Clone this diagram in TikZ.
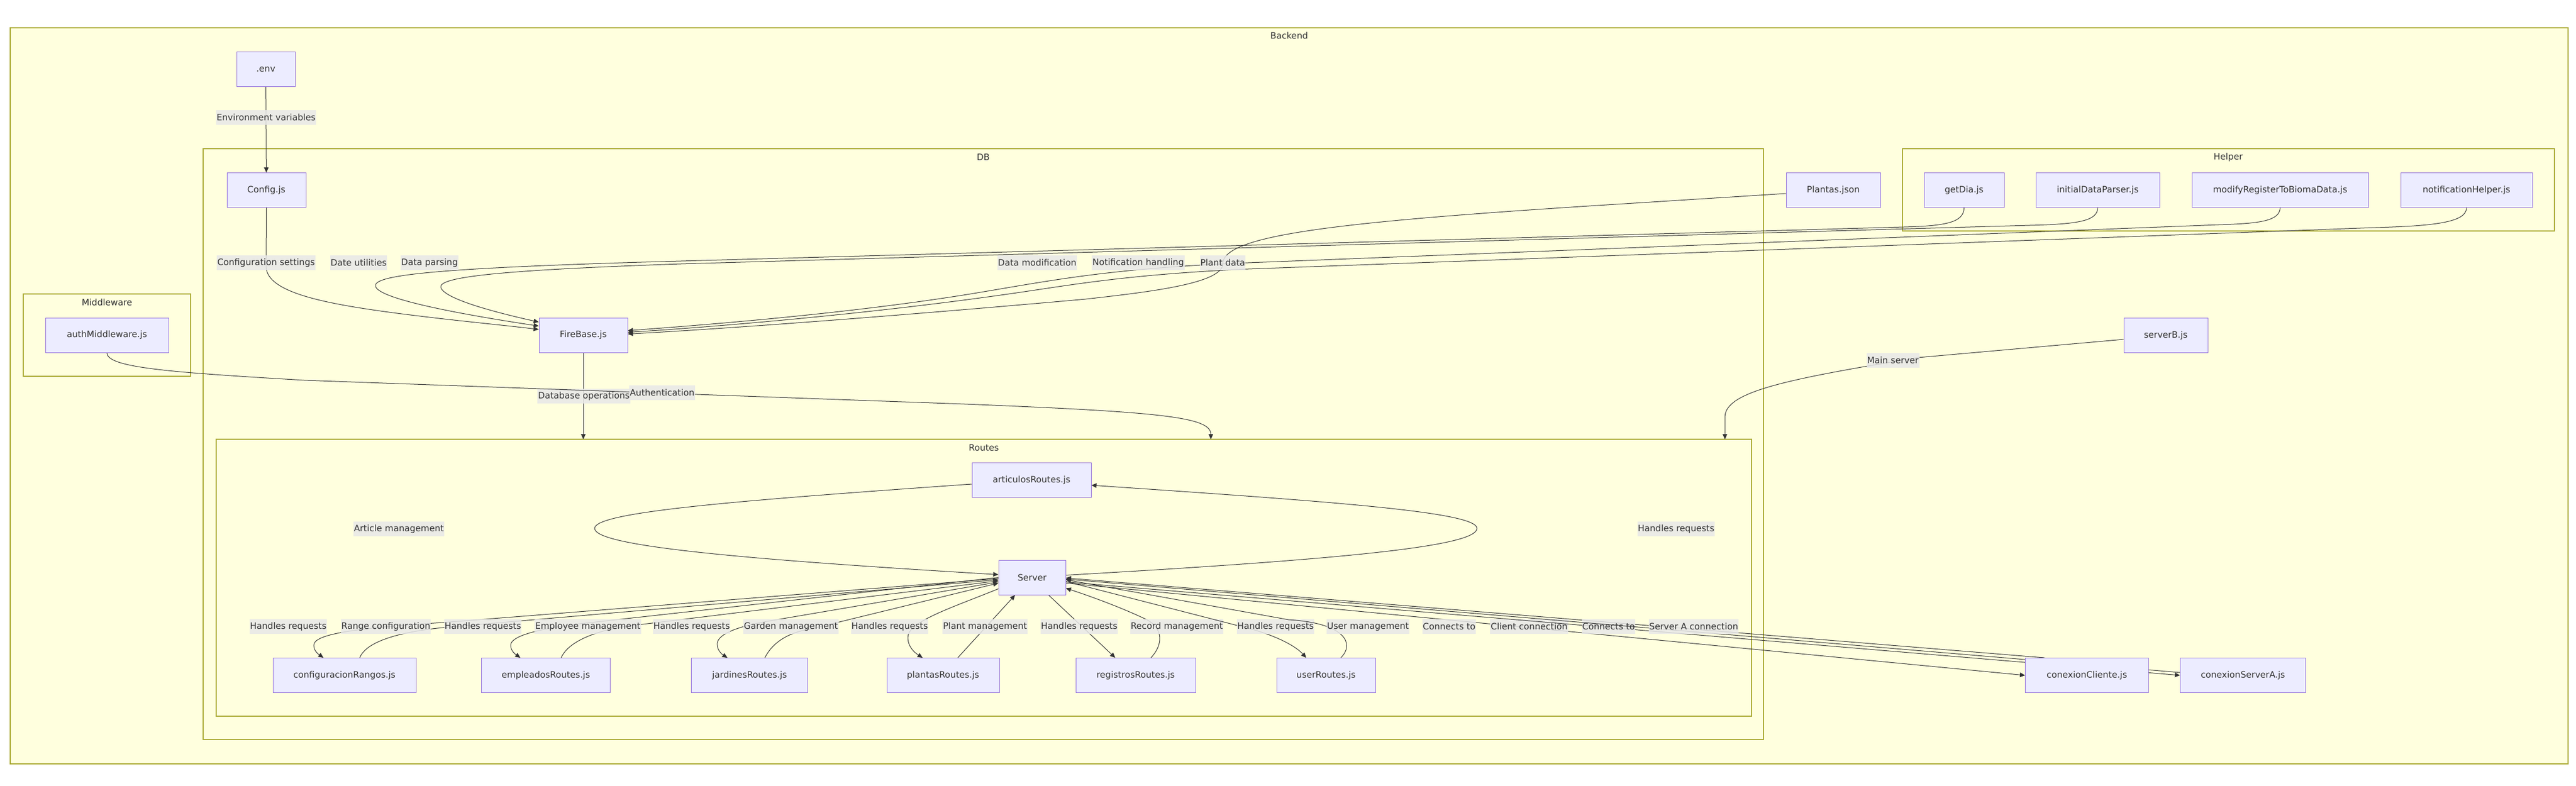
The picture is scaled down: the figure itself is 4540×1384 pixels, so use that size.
\documentclass[tikz,border=0pt]{standalone}
\usepackage{fontspec}
\setmainfont{DejaVu Sans}
\usetikzlibrary{arrows.meta}
\definecolor{nodefill}{HTML}{ECECFF}
\definecolor{nodeline}{HTML}{9370DB}
\definecolor{clfill}{HTML}{FFFFDE}
\definecolor{clline}{HTML}{AAAA33}
\definecolor{edgecol}{HTML}{333333}
\definecolor{lblfill}{HTML}{E8E8E8}
\pgfdeclarelayer{bg}
\pgfdeclarelayer{edges}
\pgfsetlayers{bg,edges,main}
\tikzset{
	filebox/.style={draw=nodeline, fill=nodefill, line width=1pt, minimum height=61pt, inner sep=0pt, text=edgecol, font=\fontsize{15.5}{18}\selectfont},
	clusterbox/.style={draw=clline, fill=clfill, line width=1.2pt},
	ctitle/.style={text=edgecol, inner sep=0pt, font=\fontsize{15.5}{18}\selectfont},
	elabel/.style={fill=lblfill, fill opacity=0.85, text opacity=1, text=edgecol, inner xsep=1pt, inner ysep=0pt, minimum height=26pt, font=\fontsize{15.5}{18}\selectfont},
	flow/.style={draw=edgecol, line width=1pt, -{Triangle[length=9pt,width=8pt]}}
}

\begin{document}
\begin{tikzpicture}[x=1pt,y=-1pt]
			%%%%% START %%%%%
			
			\begin{pgfonlayer}{bg}
			\fill[white] (0,0) rectangle (4540,1384);
			\draw[clusterbox] (18,49) rectangle (4526,1346);
			\draw[clusterbox] (358,262) rectangle (3108,1303);
			\draw[clusterbox] (381,774) rectangle (3087,1262);
			\draw[clusterbox] (3353,262) rectangle (4502,407);
			\draw[clusterbox] (41,518) rectangle (336,663);
			\end{pgfonlayer}
			\useasboundingbox (0,0) rectangle (4540,1384);
			
			\node[ctitle] (backendt) at (2272,63) {Backend};
			\node[ctitle] (dbt) at (1733,277) {DB};
			\node[ctitle] (routest) at (1734,789) {Routes};
			\node[ctitle] (helpert) at (3927,277) {Helper};
			\node[ctitle] (middlewaret) at (188.5,533) {Middleware};
			
			\node[filebox, minimum width=103pt] (env) at (468.5,122) {.env};
			\node[filebox, minimum width=139pt] (config) at (469.5,335) {Config.js};
			\node[filebox, minimum width=156pt] (firebase) at (1028,590.5) {FireBase.js};
			\node[filebox, minimum width=217pt] (auth) at (188.5,590.5) {authMiddleware.js};
			\node[filebox, minimum width=166pt] (plantas) at (3231,335) {Plantas.json};
			\node[filebox, minimum width=141pt] (getdia) at (3461.5,335) {getDia.js};
			\node[filebox, minimum width=218pt] (initparser) at (3697,335) {initialDataParser.js};
			\node[filebox, minimum width=311pt] (modify) at (4018.5,335) {modifyRegisterToBiomaData.js};
			\node[filebox, minimum width=232pt] (notifhelper) at (4347,335) {notificationHelper.js};
			\node[filebox, minimum width=148pt] (serverb) at (3817,591) {serverB.js};
			\node[filebox, minimum width=210pt] (articulos) at (1818,846) {articulosRoutes.js};
			\node[filebox, minimum width=118pt] (server) at (1819,1017.5) {Server};
			\node[filebox, minimum width=252pt] (rangos) at (607,1190) {configuracionRangos.js};
			\node[filebox, minimum width=227pt] (empleados) at (962,1190) {empleadosRoutes.js};
			\node[filebox, minimum width=205pt] (jardines) at (1321,1190) {jardinesRoutes.js};
			\node[filebox, minimum width=198pt] (plantasr) at (1662,1190) {plantasRoutes.js};
			\node[filebox, minimum width=211pt] (registros) at (2001.5,1190) {registrosRoutes.js};
			\node[filebox, minimum width=174pt] (users) at (2337,1190) {userRoutes.js};
			\node[filebox, minimum width=217pt] (cliente) at (3678,1190) {conexionCliente.js};
			\node[filebox, minimum width=221pt] (servera) at (3953,1190) {conexionServerA.js};
			
			\coordinate (dbin) at (1028,774);
			\coordinate (authin) at (2134,774);
			\coordinate (mainin) at (3040,774);
			
			\begin{pgfonlayer}{edges}
			% config and helpers into FireBase
			\draw[flow] (env) -- (config) node[elabel] at (469,207) {Environment variables};
			\draw[flow] (config.south) -- (469,470) .. controls (470,515) and (570,535) .. (700,552) .. controls (800,565) and (880,572) .. ([yshift=10pt]firebase.west) node[elabel] at (469,463) {Configuration settings};
			\draw[flow] (getdia.south) .. controls (3461,392) and (3430,398) .. (3355,400) -- (1200,460) .. controls (760,472) and (655,485) .. (662,505) .. controls (670,528) and (820,555) .. ([yshift=16pt]firebase.west) node[elabel] at (632,463) {Date utilities};
			\draw[flow] (initparser.south) .. controls (3697,390) and (3660,395) .. (3577,397) -- (1200,465) .. controls (880,476) and (770,488) .. (777,507) .. controls (785,528) and (880,552) .. ([yshift=23pt]firebase.west) node[elabel] at (757,463) {Data parsing};
			\draw[flow] (modify.south) .. controls (4018,390) and (3980,394) .. (3910,396) -- (2200,463) .. controls (1950,473) and (1850,495) .. (1710,518) .. controls (1500,552) and (1250,572) .. ([yshift=8pt]firebase.east) node[elabel] at (1828,463) {Data modification};
			\draw[flow] (notifhelper.south) .. controls (4347,392) and (4290,398) .. (4187,401) -- (2200,474) .. controls (2000,483) and (1900,500) .. (1812,513) .. controls (1550,552) and (1260,576) .. ([yshift=5pt]firebase.east) node[elabel] at (2006,463) {Notification handling};
			\draw[flow] ([yshift=-6pt]plantas.west) -- (2800,363) .. controls (2350,392) and (2155,415) .. (2155,465) .. controls (2155,500) and (2020,515) .. (1914,527) .. controls (1600,555) and (1300,578) .. ([yshift=2pt]firebase.east) node[elabel] at (2155,463) {Plant data};
			
			% into Routes
			\draw[flow] (firebase) -- (dbin) node[elabel] at (1029,698) {Database operations};
			\draw[flow] (auth.south) .. controls (188,648) and (300,656) .. (536,670) -- (1700,712) .. controls (2050,726) and (2134,735) .. (authin) node[elabel] at (1167,692) {Authentication};
			\draw[flow] ([yshift=-7pt]serverb.west) -- (3381,630) .. controls (3150,668) and (3040,690) .. (3040,735) -- (mainin) node[elabel] at (3336,635) {Main server};
			
			% Server and articulos
			\draw[flow] ([yshift=4pt]server.east) .. controls (2380,985) and (2603,962) .. (2603,931) .. controls (2603,902) and (2350,884) .. ([yshift=-9pt]articulos.east) node[elabel] at (2954,932) {Handles requests};
			\draw[flow] ([yshift=-7pt]articulos.west) .. controls (1300,882) and (1048,902) .. (1048,931) .. controls (1048,962) and (1300,985) .. ([yshift=5pt]server.west) node[elabel] at (703,932) {Article management};
			
			% Server and the route files
			\draw[flow] ([yshift=-2pt]server.west) -- (780,1097) .. controls (620,1107) and (553,1118) .. (553,1137) .. controls (553,1148) and (563,1154) .. ([xshift=-37pt]rangos.north) node[elabel] at (508,1104) {Handles requests};
			\draw[flow] ([xshift=27pt]rangos.north) .. controls (642,1138) and (680,1115) .. (790,1105) -- ([yshift=-4pt]server.west) node[elabel] at (680,1104) {Range configuration};
			\draw[flow] (server.west) -- (1014,1100) .. controls (940,1110) and (900,1122) .. (900,1137) .. controls (900,1148) and (910,1154) .. ([xshift=-45pt]empleados.north) node[elabel] at (851,1104) {Handles requests};
			\draw[flow] ([xshift=27pt]empleados.north) .. controls (998,1138) and (1030,1116) .. (1100,1104) -- ([yshift=-6pt]server.west) node[elabel] at (1036,1104) {Employee management};
			\draw[flow] ([yshift=-8pt]server.west) -- (1351,1095) .. controls (1290,1106) and (1264,1120) .. (1264,1135) .. controls (1264,1147) and (1274,1154) .. ([xshift=-39pt]jardines.north) node[elabel] at (1219,1104) {Handles requests};
			\draw[flow] ([xshift=27pt]jardines.north) .. controls (1360,1135) and (1385,1115) .. (1430,1108) -- ([yshift=-10pt]server.west) node[elabel] at (1394,1104) {Garden management};
			\draw[flow] ([yshift=-20pt]server.west) .. controls (1680,1070) and (1600,1095) .. (1600,1123) .. controls (1600,1140) and (1612,1150) .. ([xshift=-36pt]plantasr.north) node[elabel] at (1568,1104) {Handles requests};
			\draw[flow] ([xshift=26pt]plantasr.north) -- ([xshift=-30pt]server.south) node[elabel] at (1736,1104) {Plant management};
			\draw[flow] ([xshift=29pt]server.south) -- ([xshift=-36pt]registros.north) node[elabel] at (1902,1104) {Handles requests};
			\draw[flow] ([xshift=27pt]registros.north) .. controls (2055,1130) and (2045,1102) .. (2017,1090) .. controls (1975,1070) and (1920,1050) .. ([yshift=-19pt]server.east) node[elabel] at (2074,1104) {Record management};
			\draw[flow] ([yshift=-7pt]server.east) -- (2180,1102) .. controls (2250,1118) and (2285,1140) .. ([xshift=-35pt]users.north) node[elabel] at (2248,1104) {Handles requests};
			\draw[flow] ([xshift=26pt]users.north) .. controls (2388,1135) and (2372,1098) .. (2271,1092) -- ([yshift=-4pt]server.east) node[elabel] at (2411,1104) {User management};
			
			% connections
			\draw[flow] ([yshift=-10pt]server.east) -- (cliente.west) node[elabel] at (2554,1104) {Connects to};
			\draw[flow] ([xshift=-75pt]cliente.north) -- ([yshift=-1pt]server.east) node[elabel] at (2695,1104) {Client connection};
			\draw[flow] ([yshift=-8pt]server.east) -- (servera.west) node[elabel] at (2835,1104) {Connects to};
			\draw[flow] ([yshift=5pt]servera.west) -- ([yshift=-3pt]server.east) node[elabel] at (2985,1104) {Server A connection};
			\end{pgfonlayer}
			
			%%%%% END %%%%%
\end{tikzpicture}
\end{document}
